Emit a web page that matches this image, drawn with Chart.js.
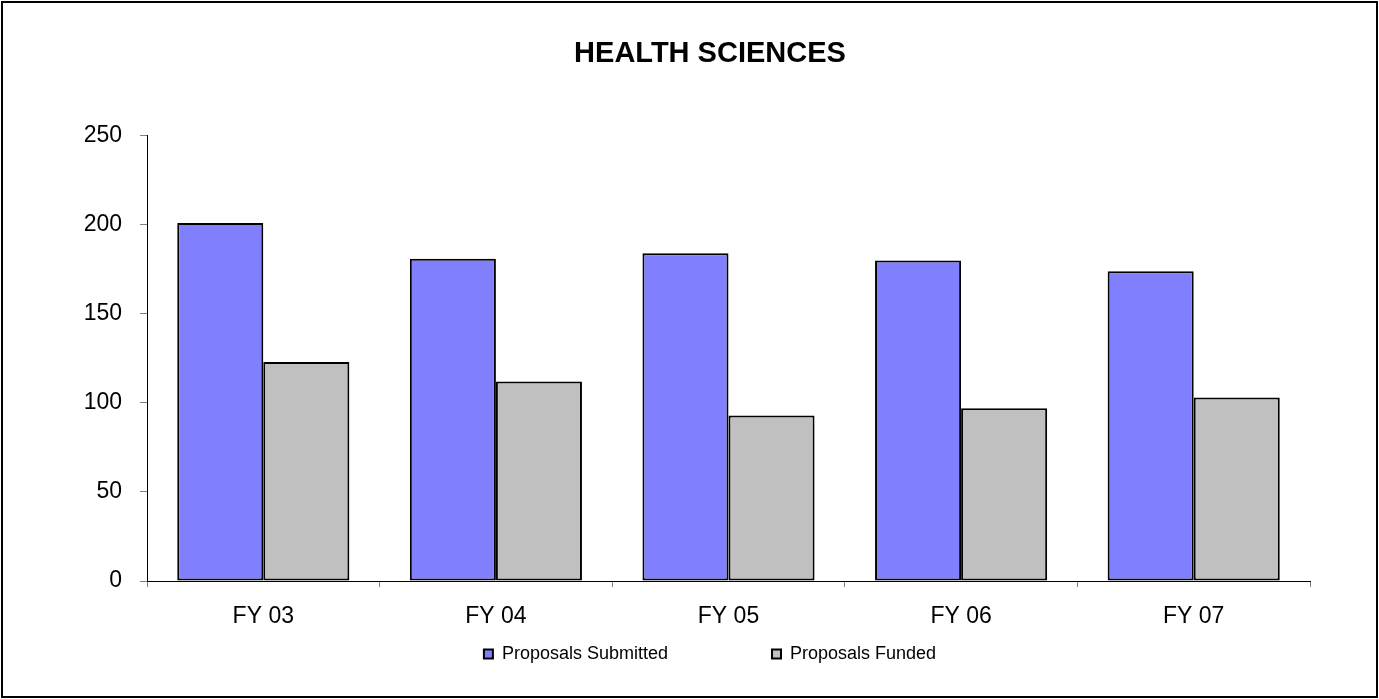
<!DOCTYPE html>
<html>
<head>
<meta charset="utf-8">
<script src="https://cdn.jsdelivr.net/npm/chart.js@4.4.0/dist/chart.umd.min.js"></script>
<style>
  html, body { margin: 0; padding: 0; background: #fff; }
  #wrap { position: relative; width: 1379px; height: 699px; overflow: hidden; }
  #frame { position: absolute; left: 1px; top: 1px; right: 1px; bottom: 1px; border: 2px solid #000; box-sizing: border-box; pointer-events: none; }
  #chartBox { position: absolute; left: 42px; top: 0; width: 1336px; height: 699px; }
</style>
</head>
<body>
<div id="wrap">
  <div id="chartBox"><canvas id="healthChart"></canvas></div>
  <div id="frame"></div>
</div>
<script>
const years = ['FY 03', 'FY 04', 'FY 05', 'FY 06', 'FY 07'];
const submitted = [201, 181, 184, 180, 174];
const funded = [123, 112, 93, 97, 103];
const yTicks = [0, 50, 100, 150, 200, 250];

Chart.defaults.font.family = 'Arial, "Liberation Sans", sans-serif';
Chart.defaults.color = '#000';

document.addEventListener('DOMContentLoaded', function() {
    const ctx = document.getElementById('healthChart').getContext('2d');
    new Chart(ctx, {
        type: 'bar',
        data: {
            labels: years,
            datasets: [{
                label: 'Proposals Submitted',
                data: submitted,
                backgroundColor: '#8080FF',
                borderColor: '#000',
                borderWidth: 2,
                borderSkipped: false
            }, {
                label: 'Proposals Funded',
                data: funded,
                backgroundColor: '#C0C0C0',
                borderColor: '#000',
                borderWidth: 2,
                borderSkipped: false
            }]
        },
        options: {
            responsive: true,
            maintainAspectRatio: false,
            animation: false,
            categoryPercentage: 0.74,
            barPercentage: 1,
            layout: {
                padding: { left: 0, right: 0, top: 0, bottom: 26 }
            },
            plugins: {
                title: {
                    display: true,
                    text: 'HEALTH SCIENCES',
                    font: { size: 29, weight: 'bold' },
                    padding: { top: 37, bottom: 64 }
                },
                legend: {
                    position: 'bottom',
                    labels: {
                        font: { size: 18 },
                        boxWidth: 9,
                        boxHeight: 9,
                        padding: 14,
                        generateLabels: function(chart) {
                            const items = Chart.defaults.plugins.legend.labels.generateLabels(chart);
                            // wide gap between the two entries, as in the original
                            items[0].text = items[0].text + '\u00a0'.repeat(18);
                            items.forEach(it => { it.lineWidth = 2; });
                            return items;
                        }
                    }
                },
                tooltip: { enabled: false }
            },
            scales: {
                x: {
                    grid: {
                        display: true,
                        drawOnChartArea: false,
                        drawTicks: true,
                        tickLength: 6,
                        color: '#808080',
                        offset: true
                    },
                    border: { display: true, color: '#000', width: 1 },
                    ticks: {
                        font: { size: 23 },
                        padding: 16
                    },
                    afterFit: function(scale) { scale.height = 50; }
                },
                y: {
                    min: 0,
                    max: 250,
                    afterBuildTicks: function(scale) {
                        scale.ticks = yTicks.map(v => ({ value: v }));
                    },
                    grid: {
                        display: true,
                        drawOnChartArea: false,
                        drawTicks: true,
                        tickLength: 7,
                        color: '#808080'
                    },
                    border: { display: true, color: '#000', width: 1 },
                    ticks: {
                        font: { size: 23 },
                        padding: 18
                    },
                    afterFit: function(scale) { scale.width = 105; }
                },
                // empty right-hand axis, only keeps space on the right of the plot
                spacer: {
                    type: 'linear',
                    position: 'right',
                    grid: { display: false },
                    border: { display: false },
                    ticks: { display: false },
                    afterFit: function(scale) { scale.width = 68; }
                }
            }
        }
    });
});
</script>
</body>
</html>
